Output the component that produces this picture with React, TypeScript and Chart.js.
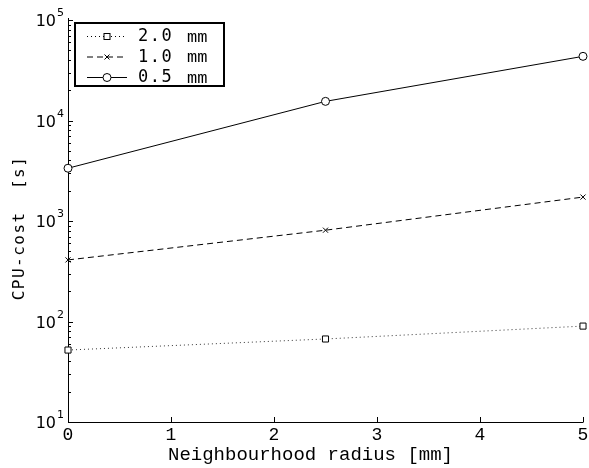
import React, { useEffect, useRef } from "react";
import { Chart, registerables } from "chart.js";

Chart.register(...registerables);

const xValues = [0, 2.5, 5];
const seriesLabels = ["2.0", "1.0", "0.5"];
const cost20 = [52, 67, 90];
const cost10 = [410, 810, 1730];
const cost05 = [3350, 15500, 43500];
const xTicks = [0, 1, 2, 3, 4, 5];
const yExponents = [1, 2, 3, 4, 5];
const xTitle = "Neighbourhood radius [mm]";
const yTitle = "CPU-cost  [s]";

function drawMarker(ctx: CanvasRenderingContext2D, kind: string, x: number, y: number) {
  ctx.save();
  ctx.setLineDash([]);
  ctx.lineWidth = 1;
  ctx.strokeStyle = "#000";
  ctx.fillStyle = "#fff";
  if (kind === "rect") {
    ctx.fillRect(x - 3, y - 3, 6, 6);
    ctx.strokeRect(x - 3, y - 3, 6, 6);
  } else if (kind === "circle") {
    ctx.beginPath();
    ctx.arc(x, y, 4, 0, Math.PI * 2);
    ctx.fill();
    ctx.stroke();
  } else {
    ctx.beginPath();
    ctx.moveTo(x - 2.5, y - 2.5);
    ctx.lineTo(x + 2.5, y + 2.5);
    ctx.moveTo(x + 2.5, y - 2.5);
    ctx.lineTo(x - 2.5, y + 2.5);
    ctx.stroke();
  }
  ctx.restore();
}

const axesPlugin = {
  id: "matlabAxes",
  beforeDatasetsDraw(chart: any) {
    const ctx: CanvasRenderingContext2D = chart.ctx;
    const xs = chart.scales.x;
    const ys = chart.scales.y;
    const { left, right, top, bottom } = chart.chartArea;
    ctx.save();
    ctx.strokeStyle = "#000";
    ctx.lineWidth = 1;
    ctx.beginPath();
    ctx.moveTo(left + 0.5, top - 2);
    ctx.lineTo(left + 0.5, bottom + 0.5);
    ctx.lineTo(right + 0.5, bottom + 0.5);
    ctx.stroke();
    ctx.beginPath();
    xTicks.forEach((t) => {
      const px = Math.round(xs.getPixelForValue(t)) + 0.5;
      ctx.moveTo(px, bottom);
      ctx.lineTo(px, bottom - 5);
    });
    yExponents.forEach((e) => {
      const py = Math.round(ys.getPixelForValue(Math.pow(10, e))) + 0.5;
      ctx.moveTo(left, py);
      ctx.lineTo(left + 5, py);
      if (e < 5) {
        for (let m = 2; m <= 9; m++) {
          const pm = Math.round(ys.getPixelForValue(m * Math.pow(10, e))) + 0.5;
          ctx.moveTo(left, pm);
          ctx.lineTo(left + 3, pm);
        }
      }
    });
    ctx.stroke();

    ctx.fillStyle = "#000";
    ctx.font = "18px 'Liberation Mono'";
    ctx.textAlign = "center";
    ctx.textBaseline = "middle";
    xTicks.forEach((t) => {
      ctx.fillText(String(t), xs.getPixelForValue(t), bottom + 13);
    });
    ctx.font = "19px 'Liberation Mono'";
    ctx.fillText(xTitle, (left + right) / 2 - 15, bottom + 33);
    yExponents.forEach((e) => {
      const py = ys.getPixelForValue(Math.pow(10, e));
      ctx.font = "16px 'DejaVu Sans'";
      ctx.textAlign = "right";
      ctx.textBaseline = "alphabetic";
      ctx.fillText("10", left - 12, py + 6);
      ctx.font = "11px 'DejaVu Sans'";
      ctx.textAlign = "left";
      ctx.fillText(String(e), left - 11, py - 4);
    });
    ctx.save();
    ctx.translate(20, 228);
    ctx.rotate(-Math.PI / 2);
    ctx.font = "16px 'DejaVu Sans Mono'";
    (ctx as any).letterSpacing = "1.5px";
    ctx.textAlign = "center";
    ctx.textBaseline = "middle";
    ctx.fillText(yTitle, 0, 0);
    ctx.restore();
    ctx.restore();
  },
  afterDraw(chart: any) {
    const ctx: CanvasRenderingContext2D = chart.ctx;
    ctx.save();
    ctx.fillStyle = "#fff";
    ctx.fillRect(75, 23, 149, 63);
    ctx.strokeStyle = "#000";
    ctx.lineWidth = 2;
    ctx.strokeRect(75, 23, 149, 63);
    const rows = [36, 56.5, 77];
    const dashes = [[1, 3], [6, 4], []];
    const markers = ["rect", "crossRot", "circle"];
    rows.forEach((ry, i) => {
      ctx.save();
      ctx.lineWidth = 1;
      ctx.strokeStyle = "#000";
      ctx.setLineDash(dashes[i]);
      ctx.beginPath();
      ctx.moveTo(87, ry + 0.5);
      ctx.lineTo(127, ry + 0.5);
      ctx.stroke();
      ctx.restore();
      drawMarker(ctx, markers[i], 107, ry + 0.5);
      ctx.fillStyle = "#000";
      ctx.textAlign = "left";
      ctx.textBaseline = "middle";
      ctx.font = "17px 'DejaVu Sans Mono'";
      (ctx as any).letterSpacing = "1.5px";
      ctx.fillText(seriesLabels[i], 138, ry + 1);
      (ctx as any).letterSpacing = "0px";
      ctx.font = "17px 'Liberation Mono'";
      ctx.fillText("mm", 187, ry + 1);
    });
    ctx.restore();
  },
};

export default function App() {
  const ref = useRef<HTMLCanvasElement | null>(null);
  useEffect(() => {
    if (!ref.current) return;
    const mk = (vals: number[]) => vals.map((v, i) => ({ x: xValues[i], y: v }));
    const chart = new Chart(ref.current, {
      type: "line",
      data: {
        datasets: [
          {
            label: seriesLabels[0] + " mm",
            data: mk(cost20),
            borderColor: "#333",
            borderWidth: 1,
            borderDash: [1, 3],
            pointStyle: "rect",
            pointRadius: 4.3,
            pointBorderColor: "#000",
            pointBackgroundColor: "#fff",
            pointBorderWidth: 1,
            clip: false as any,
          },
          {
            label: seriesLabels[1] + " mm",
            data: mk(cost10),
            borderColor: "#000",
            borderWidth: 1,
            borderDash: [6, 4],
            pointStyle: "crossRot",
            pointRadius: 3.6,
            pointBorderColor: "#000",
            pointBorderWidth: 1,
            clip: false as any,
          },
          {
            label: seriesLabels[2] + " mm",
            data: mk(cost05),
            borderColor: "#000",
            borderWidth: 1,
            pointStyle: "circle",
            pointRadius: 4,
            pointBorderColor: "#000",
            pointBackgroundColor: "#fff",
            pointBorderWidth: 1,
            clip: false as any,
          },
        ],
      },
      options: {
        responsive: false,
        animation: false,
        layout: { padding: { left: 68, right: 6, top: 20, bottom: 46 } },
        plugins: { legend: { display: false }, tooltip: { enabled: false } },
        scales: {
          x: { type: "linear", min: 0, max: 5, display: false },
          y: { type: "logarithmic", min: 10, max: 100000, display: false },
        },
      },
      plugins: [axesPlugin],
    });
    return () => chart.destroy();
  }, []);
  return (
    <div style={{ position: "absolute", left: 0, top: 0, width: 589, height: 468, background: "#fff" }}>
      <canvas ref={ref} width={589} height={468} />
    </div>
  );
}
